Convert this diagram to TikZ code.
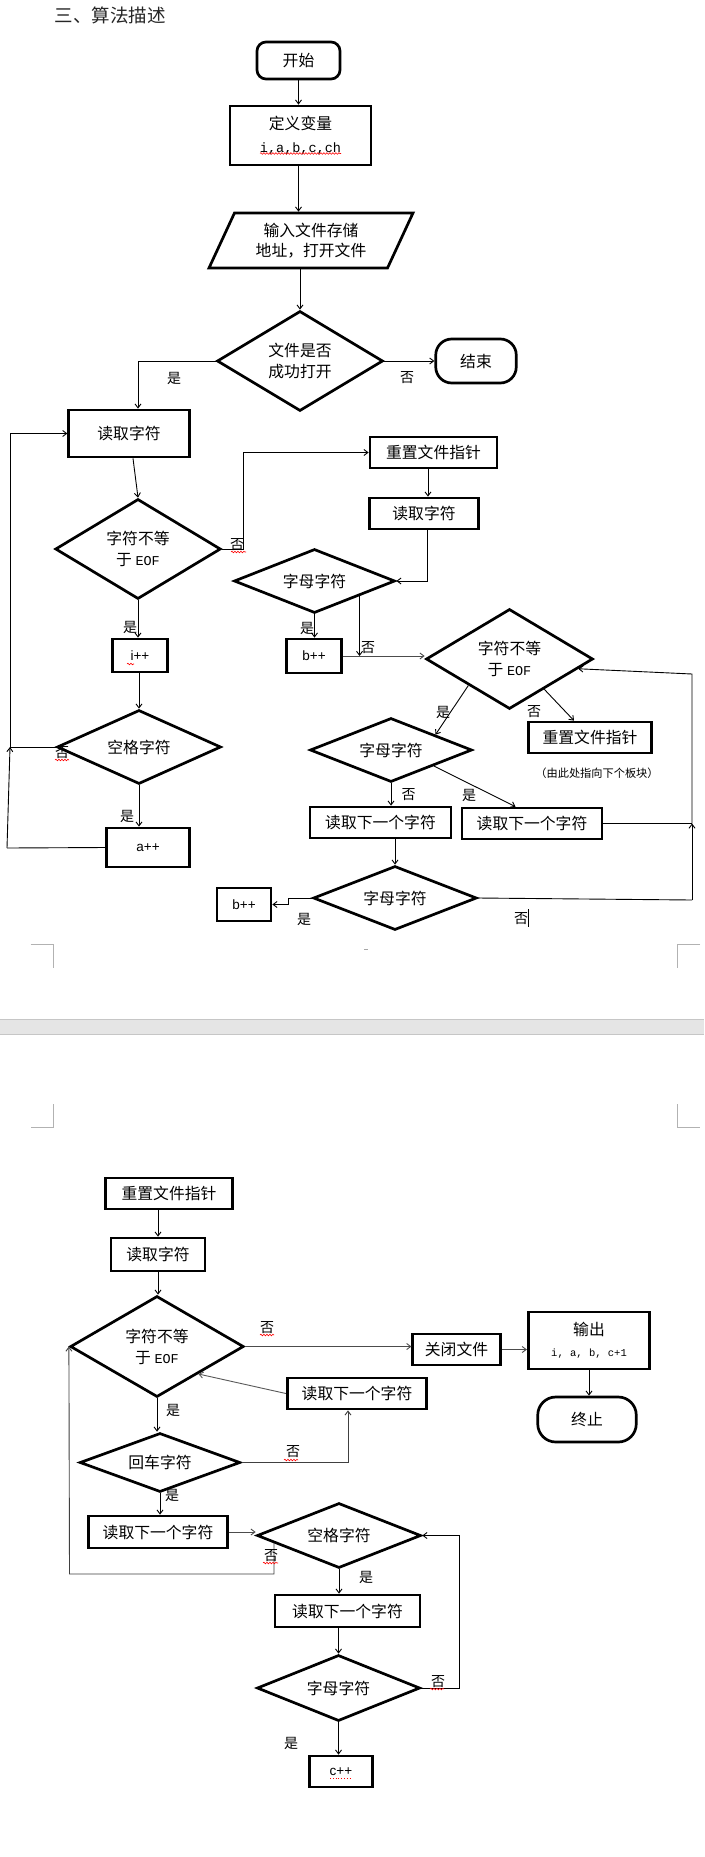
\documentclass[tikz,border=0pt]{standalone}
\usepackage{fontspec}
\setmainfont{Liberation Sans}
\newfontfamily\cjk{Noto Sans CJK SC}
\newfontfamily\mono{Liberation Mono}
\usetikzlibrary{shapes.geometric,arrows.meta,calc,decorations.pathmorphing}
\begin{document}
\begin{tikzpicture}[x=1pt,y=-1pt,
  every node/.style={font=\cjk\fontsize{15.8}{21}\selectfont, inner sep=0pt},
  box/.style={draw, line width=2.7pt, rectangle},
  dia/.style={diamond, draw, line width=2.7pt, inner sep=0pt},
  latin/.style={font=\normalfont\fontsize{13.5}{14}\selectfont},
  lab/.style={font=\cjk\fontsize{14}{15}\selectfont},
  conn/.style={line width=0.9pt},
  arr/.style={conn, -{Straight Barb[length=4pt,width=6pt]}},
  sq/.style={red, line width=0.6pt, decorate, decoration={snake, amplitude=0.8pt, segment length=3pt}},
  pagemark/.style={gray!60, line width=1pt}]
\fill[white] (0,0) rectangle (704,1857);
\useasboundingbox (0,0) rectangle (704,1857);

% page decorations
\draw[pagemark] (30.5,944) -- (53,944) -- (53,968);
\draw[pagemark] (700,944) -- (677,944) -- (677,968);
\draw[pagemark] (53,1104) -- (53,1127) -- (30.5,1127);
\draw[pagemark] (677,1104) -- (677,1127) -- (700,1127);
\draw[gray!70, line width=0.8pt] (364,949) -- (368,949);
\fill[gray!20] (0,1019) rectangle (704,1034);
\draw[gray!45, line width=1pt] (0,1019) -- (704,1019);
\draw[gray!45, line width=1pt] (0,1034) -- (704,1034);

% title
\node[font=\cjk\fontsize{18.5}{20}\selectfont, text=black!85] (title) at (110,15) {三、算法描述};

% ---------- page 1 ----------
\node[box, rounded corners=9pt, minimum width=83pt, minimum height=37pt] (N1) at (298.5,60.5) {开始};
\node[box, minimum width=141pt, minimum height=59pt, align=center] (N2) at (300.5,135.5) {定义变量\\[2pt]{\mono\fontsize{13.5}{14}\selectfont i,a,b,c,ch}};
\node[trapezium, trapezium left angle=54, trapezium right angle=126, trapezium stretches body, draw, line width=2.7pt, minimum width=204pt, minimum height=55pt, align=center, font=\cjk\fontsize{15.8}{20}\selectfont] (N3) at (311,240.5) {输入文件存储\\地址，打开文件};
\node[dia, aspect=1.66, minimum width=166pt, minimum height=100pt, align=center] (D1) at (300,361) {文件是否\\成功打开};
\node[box, rounded corners=16pt, minimum width=80.5pt, minimum height=44pt] (E1) at (476,361) {结束};

\node[box, minimum width=120.5pt, minimum height=47pt] (B1) at (129,433.5) {读取字符};
\node[dia, aspect=1.65, minimum width=165.5pt, minimum height=100pt, align=center] (D2) at (138,549) {字符不等\\于 {\mono\fontsize{13.5}{14}\selectfont EOF}};
\node[box, latin, minimum width=55.5pt, minimum height=33pt] (IPP) at (140,655.5) {i++};
\node[dia, aspect=2.2, minimum width=164pt, minimum height=74pt] (D6) at (139,747) {空格字符};
\node[box, latin, minimum width=82.5pt, minimum height=39pt] (APP) at (148,847.5) {a++};

\node[box, minimum width=127pt, minimum height=31pt] (R1) at (433.5,452.5) {重置文件指针};
\node[box, minimum width=108.5pt, minimum height=31pt] (Rd2) at (424,513.5) {读取字符};
\node[dia, aspect=2.5, minimum width=161pt, minimum height=64pt] (D3) at (314.5,581) {字母字符};
\node[box, latin, minimum width=54.5pt, minimum height=34pt] (B2) at (314,656) {b++};
\node[dia, aspect=1.67, minimum width=167pt, minimum height=100pt, align=center] (D4) at (509.5,659) {字符不等\\于 {\mono\fontsize{13.5}{14}\selectfont EOF}};
\node[box, minimum width=123.5pt, minimum height=31pt] (R2) at (590,737.5) {重置文件指针};
\node[font=\cjk\fontsize{11.2}{12}\selectfont] (note) at (597,773) {（由此处指向下个板块）};
\node[dia, aspect=2.5, minimum width=162pt, minimum height=64pt] (D5) at (391,750) {字母字符};
\node[box, minimum width=141pt, minimum height=31pt] (RN1) at (380.5,822.5) {读取下一个字符};
\node[box, minimum width=140pt, minimum height=31pt] (RN2) at (532,823.5) {读取下一个字符};
\node[dia, aspect=2.55, minimum width=163.5pt, minimum height=64pt] (D7) at (395,898) {字母字符};
\node[box, latin, minimum width=54pt, minimum height=33pt] (B3) at (244,904.5) {b++};

% ---------- page 2 ----------
\node[box, minimum width=127pt, minimum height=31pt] (R3) at (169,1193.5) {重置文件指针};
\node[box, minimum width=94pt, minimum height=33pt] (Rd3) at (158,1254.5) {读取字符};
\node[dia, aspect=1.72, minimum width=173.5pt, minimum height=101pt, align=center] (D8) at (157,1346.5) {字符不等\\于 {\mono\fontsize{13.5}{14}\selectfont EOF}};
\node[box, minimum width=87.5pt, minimum height=31pt] (CL) at (456.5,1349.5) {关闭文件};
\node[box, minimum width=121.5pt, minimum height=57pt, align=center] (OUT) at (589,1340.5) {输出\\{\mono\fontsize{10.5}{11}\selectfont i, a, b, c+1}};
\node[box, rounded corners=18pt, minimum width=98.5pt, minimum height=45pt] (ST) at (587,1419.5) {终止};
\node[box, minimum width=139.5pt, minimum height=31pt] (RN3) at (357,1393.5) {读取下一个字符};
\node[dia, aspect=2.7, minimum width=160.5pt, minimum height=59pt] (D9) at (160,1462.5) {回车字符};
\node[box, minimum width=138.5pt, minimum height=32pt] (RN4) at (158,1532) {读取下一个字符};
\node[dia, aspect=2.5, minimum width=164pt, minimum height=65pt] (D10) at (339,1535.5) {空格字符};
\node[box, minimum width=145pt, minimum height=32pt] (RN5) at (347.5,1611) {读取下一个字符};
\node[dia, aspect=2.5, minimum width=163pt, minimum height=66pt] (D11) at (338.5,1688) {字母字符};
\node[box, latin, minimum width=63.5pt, minimum height=31pt] (CPP) at (341,1771.5) {c++};

% ---------- connectors page 1 ----------
\draw[arr] (N1.south) -- (N1.south |- N2.north);
\draw[arr] (N1.south |- N2.south) -- (N1.south |- N3.north);
\draw[arr] (N3.south -| D1.north) -- (D1.north);
\draw[arr] (D1.west) -| (D2.north |- B1.north);
\draw[arr] (D1.east) -- (E1.west);
\draw[arr] ($(B1.south)+(4,0)$) -- (D2.north);
\draw[arr] (D2.east) -- ++(21,0) |- (R1.west);
\draw[arr] ($(R1.south)+(-5.5,0)$) -- ($(Rd2.north)+(4,0)$);
\draw[arr] ($(Rd2.south)+(3,0)$) |- (D3.east);
\draw[arr] (D3.south) -- (D3.south |- B2.north);
\coordinate (d3n) at ($(D3.east)!0.45!(D3.south)$);
\draw[arr] (d3n) -- (d3n |- B2.east);
\draw[arr, draw=black!70] (B2.east) -- (B2.east -| D4.west);
\draw[arr] ($(D4.west)!0.515!(D4.south)$) -- ($(D5.north)!0.54!(D5.east)$);
\draw[arr] ($(D4.south)!0.41!(D4.east)$) -- ($(R2.north)+(-16,0)$);
\draw[arr] (D5.south) -- (D5.south |- RN1.north);
\draw[arr] ($(D5.east)!0.48!(D5.south)$) -- ($(RN2.north)+(-16.5,0)$);
\draw[arr] (D7.north |- RN1.south) -- (D7.north);
\draw[arr] (D7.west) -- ++(-23,0) |- (B3.east);
\coordinate (rc1) at (692,900);
\coordinate (rc2) at (692,674);
\draw[conn] (D7.east) -- (rc1);
\draw[arr] (rc1) -- (rc1 |- RN2.east);
\draw[conn] (RN2.east) -- (rc1 |- RN2.east);
\draw[arr] (rc1 |- RN2.east) -- (rc2) -- ($(D4.east)!0.19!(D4.south)$);
\coordinate (lc1) at (7,848);
\coordinate (lc2) at (10,747);
\coordinate (lc3) at (10,433.5);
\draw[conn] (APP.west) -- (lc1);
\draw[arr] (lc1) -- (lc2);
\draw[conn] (D6.west) -- (lc2);
\draw[arr] (lc2) -- (lc3) -- (B1.west);
\draw[arr] (D2.south) -- (D2.south |- IPP.north);
\draw[arr] (IPP.south -| D6.north) -- (D6.north);
\draw[arr] (D6.south) -- (D6.south |- APP.north);

% ---------- connectors page 2 ----------
\draw[arr] (Rd3.north |- R3.south) -- (Rd3.north);
\draw[arr] (Rd3.south) -- (Rd3.south |- D8.north);
\draw[arr, draw=black!70] (D8.east) -- (D8.east -| CL.west);
\draw[arr, draw=black!70] (CL.east) -- (CL.east -| OUT.west);
\draw[arr] (OUT.south) -- (OUT.south |- ST.north);
\draw[arr, draw=black!65] (RN3.west) -- ($(D8.east)!0.53!(D8.south)$);
\draw[arr] (D8.south) -- (D8.south |- D9.north);
\draw[arr, draw=black!75] (D9.east) -| ($(RN3.south)+(-9,0)$);
\draw[arr] (D9.south) -- (D9.south |- RN4.north);
\draw[arr, draw=black!70] (RN4.east) -- (RN4.east -| D10.west);
\coordinate (d10n) at ($(D10.west)!0.22!(D10.south)$);
\coordinate (bl1) at (69.5,1574);
\draw[arr, draw=black!75] (d10n) -- (d10n |- bl1) -- (bl1) -- (D8.west);
\draw[arr] (D10.south) -- (D10.south |- RN5.north);
\draw[arr] (RN5.south -| D11.north) -- (D11.north);
\draw[arr] (D11.east) -- ++(38,0) |- (D10.east);
\draw[arr] (D11.south) -- (D11.south |- CPP.north);

% ---------- labels ----------
\node[lab] (l1) at (174,378) {是};
\node[lab] (l2) at (407,378) {否};
\node[lab] (l3) at (237,545) {否};
\node[lab] (l4) at (130,627) {是};
\node[lab] (l5) at (307,628) {是};
\node[lab] (l6) at (368,648) {否};
\node[lab] (l7) at (443,712) {是};
\node[lab] (l8) at (534,712) {否};
\node[lab] (l9) at (408.5,795) {否};
\node[lab] (l10) at (469,795) {是};
\node[lab] (l11) at (62,753) {否};
\node[lab] (l12) at (127,816) {是};
\node[lab] (l13) at (304,919) {是};
\node[lab] (l14) at (521,919) {否};
\draw[line width=0.8pt] (528,909) -- (528,927);
\node[lab] (l15) at (267,1328) {否};
\node[lab] (l16) at (173,1410) {是};
\node[lab] (l17) at (293,1452) {否};
\node[lab] (l18) at (172,1495) {是};
\node[lab] (l19) at (271,1556) {否};
\node[lab] (l20) at (366,1577) {是};
\node[lab] (l21) at (438,1682) {否};
\node[lab] (l22) at (291,1743) {是};

% ---------- spell-check marks ----------
\draw[sq] (260,153.5) -- (341,153.5);
\draw[sq] (231,552) -- (246,552);
\draw[sq] (127,664) -- (134,664);
\draw[sq] (55,760) -- (69,760);
\draw[sq] (260,1335) -- (274,1335);
\draw[sq] (284,1460) -- (298,1460);
\draw[sq] (263,1563) -- (278,1563);
\draw[sq] (430,1689) -- (444,1689);
\draw[red, dotted, line width=0.8pt] (330,1778) -- (352,1778);
\end{tikzpicture}
\end{document}
